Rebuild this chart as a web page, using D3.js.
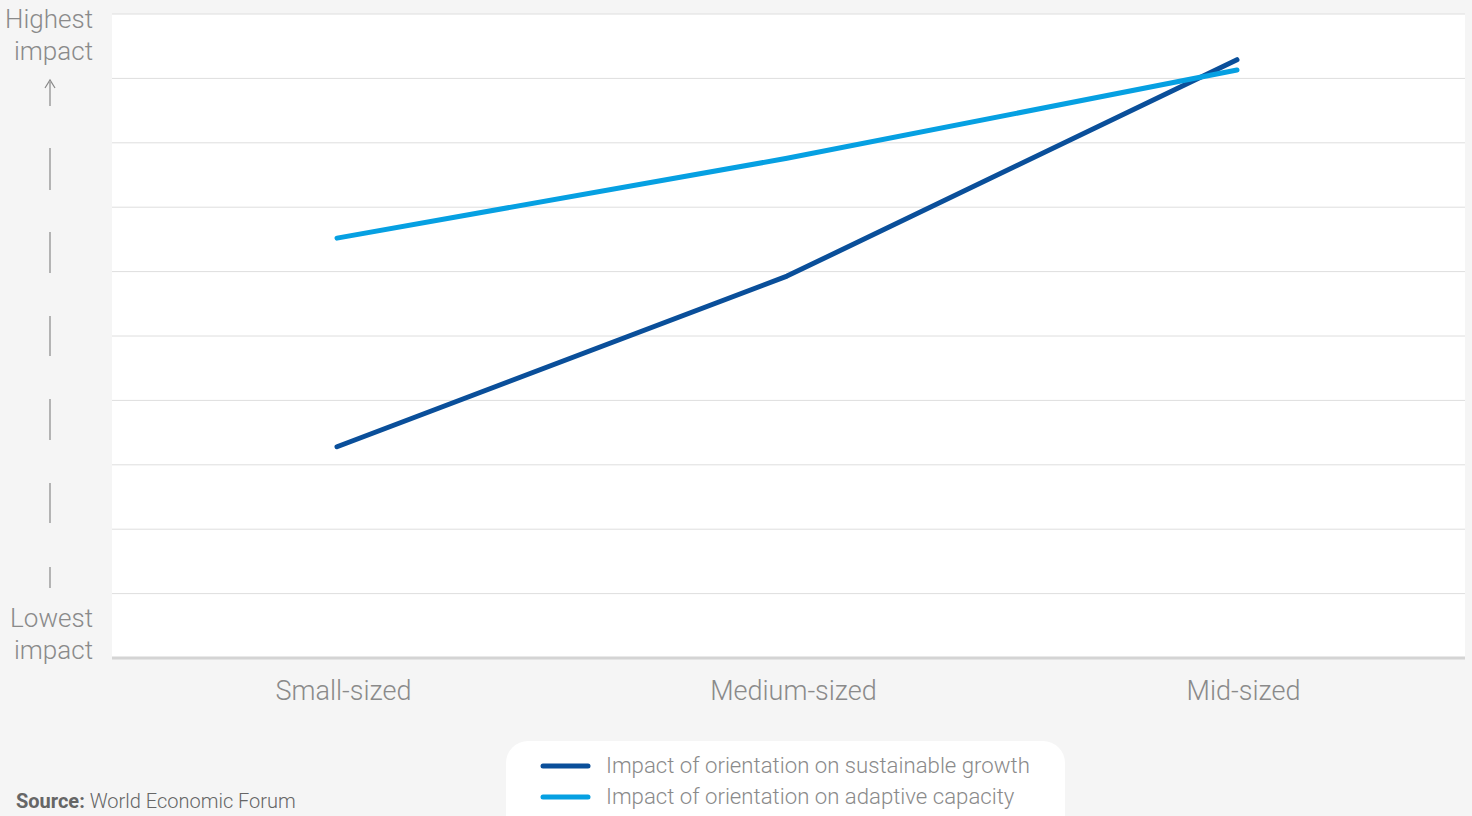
<!DOCTYPE html>
<html><head><meta charset="utf-8">
<script src="https://cdn.jsdelivr.net/npm/d3@7"></script>
<style>
html,body{margin:0;padding:0;background:#f5f5f5;}
svg text{font-family:Roboto,"Liberation Sans",sans-serif;font-weight:300;}
</style></head><body>
<svg id="c" width="1472" height="816"></svg>
<script>
const categories = ["Small-sized", "Medium-sized", "Mid-sized"];
const sustainableGrowth = [3.28, 5.93, 9.29];
const adaptiveCapacity = [6.52, 7.76, 9.13];
const seriesNames = ["Impact of orientation on sustainable growth", "Impact of orientation on adaptive capacity"];
const seriesColors = ["#0a4f9a", "#06a0e2"];
const yTicks = [0,1,2,3,4,5,6,7,8,9,10];

(function(){
const svg = d3.select("#c");
const W = 1472, H = 816;
svg.append("rect").attr("width", W).attr("height", H).attr("fill", "#f5f5f5");

const pL = 112, pR = 1465, pT = 14, pB = 658;
const x = d3.scalePoint().domain(categories).range([pL, 1462]).padding(0.5);
const y = d3.scaleLinear().domain([0, 10]).range([pB, pT]);

svg.append("rect").attr("x", pL).attr("y", pT).attr("width", pR - pL).attr("height", pB - pT).attr("fill", "#fff");

svg.append("g").selectAll("line").data(yTicks.slice(1)).join("line")
  .attr("x1", pL).attr("x2", pR)
  .attr("y1", d => y(d)).attr("y2", d => y(d))
  .attr("stroke", "#dedede").attr("stroke-width", 1);
svg.append("line").attr("x1", pL).attr("x2", pR).attr("y1", pB).attr("y2", pB)
  .attr("stroke", "#d4d4d4").attr("stroke-width", 3);

// x axis labels
const xAxis = d3.axisBottom(x).tickSize(0).tickPadding(0);
const gx = svg.append("g").attr("transform", `translate(6,${pB + 42})`).call(xAxis);
gx.select(".domain").remove();
gx.selectAll("text").attr("font-size", 27).attr("fill", "#8a8a8a").attr("dy", 0)
  .style("font-family", "Roboto, 'Liberation Sans', sans-serif").style("font-weight", 300);

// lines
const line = d3.line().x((d, i) => x(categories[i])).y(d => y(d));
[sustainableGrowth, adaptiveCapacity].forEach((s, i) => {
  svg.append("path").datum(s).attr("d", line).attr("fill", "none")
    .attr("stroke", seriesColors[i]).attr("stroke-width", 5).attr("stroke-linecap", "round").attr("stroke-linejoin", "round");
});

// y-axis annotation
const lab = svg.append("g").attr("fill", "#8a8a8a").attr("font-size", 26).attr("text-anchor", "end");
lab.append("text").attr("x", 93).attr("y", 28).text("Highest");
lab.append("text").attr("x", 93).attr("y", 60).text("impact");
lab.append("text").attr("x", 93).attr("y", 627).text("Lowest");
lab.append("text").attr("x", 93).attr("y", 659).text("impact");
svg.append("line").attr("x1", 50).attr("x2", 50).attr("y1", 82).attr("y2", 106).attr("stroke", "#888").attr("stroke-width", 1.2);
svg.append("path").attr("d", "M45,88 L50,80 L55,88").attr("fill", "none").attr("stroke", "#888").attr("stroke-width", 1.2);
const dashes = [[148,190],[232,273],[316,356],[399,440],[483,523],[567,588]];
svg.append("g").selectAll("line").data(dashes).join("line")
  .attr("x1", 50).attr("x2", 50).attr("y1", d => d[0]).attr("y2", d => d[1])
  .attr("stroke", "#888").attr("stroke-width", 1.2);

// legend
svg.append("rect").attr("x", 506).attr("y", 741).attr("width", 559).attr("height", 100).attr("rx", 22).attr("fill", "#fff");
const lg = svg.append("g").selectAll("g").data(seriesNames).join("g")
  .attr("transform", (d, i) => `translate(0,${766 + i * 31})`);
lg.append("line").attr("x1", 543).attr("x2", 588).attr("y1", 0).attr("y2", 0)
  .attr("stroke", (d, i) => seriesColors[i]).attr("stroke-width", 5).attr("stroke-linecap", "round");
lg.append("text").attr("x", 606).attr("y", 7).attr("font-size", 22.2).attr("fill", "#8a8a8a").text(d => d);

// source
const src = svg.append("text").attr("x", 16).attr("y", 808).attr("font-size", 20).attr("fill", "#666");
src.append("tspan").style("font-weight", 700).text("Source:");
src.append("tspan").text(" World Economic Forum");
})();
</script>
</body></html>
